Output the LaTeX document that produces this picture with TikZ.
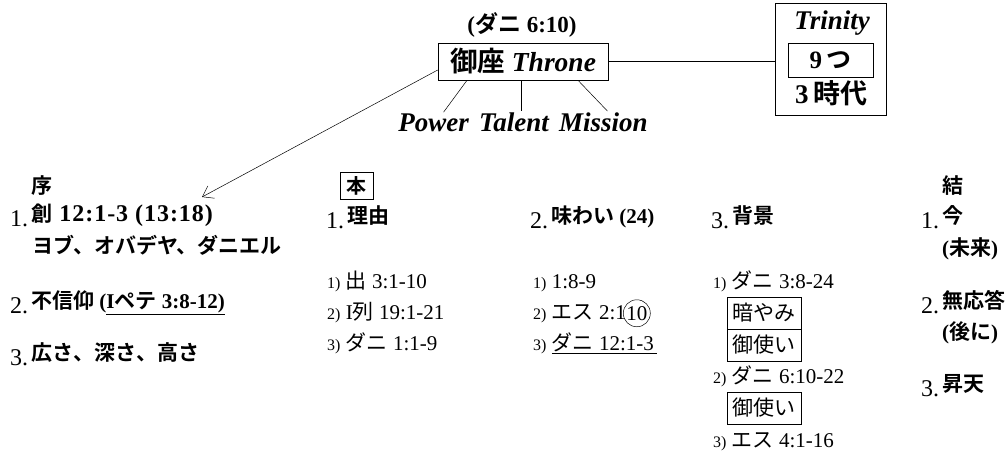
\documentclass[tikz,border=0pt]{standalone}
\usepackage{fontspec}
\setmainfont{Liberation Serif}
\newfontfamily\jp{Noto Sans CJK JP}[BoldFont={Noto Sans CJK JP Bold}]
\usetikzlibrary{arrows.meta, positioning}

\newcommand{\ja}[1]{{\jp #1}}
\newcommand{\nr}[1]{\raisebox{-5pt}{\fontsize{24}{24}\selectfont\mdseries #1}\hspace{3pt}}
\newcommand{\sn}[1]{{\fontsize{16}{16}\selectfont #1}}

\begin{document}
\begin{tikzpicture}[x=1pt, y=-1pt]

        % Setup the styles for the texts and boxes
        \tikzset{head style/.style={anchor=base west,
                                    inner sep=0pt,
                                    font=\fontsize{21}{23}\selectfont\bfseries},
                 item style/.style={anchor=base west,
                                    inner sep=0pt,
                                    font=\fontsize{21}{23}\selectfont},
                 word style/.style={inner sep=1pt,
                                    font=\fontsize{27}{29}\selectfont\bfseries\itshape},
                 box style/.style={draw,
                                   line width=0.6pt,
                                   inner sep=1pt,
                                   outer sep=0pt,
                                   minimum width=74,
                                   minimum height=32,
                                   font=\fontsize{21}{23}\selectfont}}

        \useasboundingbox (0, 0) rectangle (1008, 453);

        % Draw the throne and the trinity
        \node[font=\fontsize{23}{25}\selectfont\bfseries, anchor=base]
                        at (522, 32)    (dan)     {(\ja{ダニ} 6:10)};
        \node[draw, line width=0.6pt, minimum width=170, minimum height=37,
              font=\fontsize{27.5}{29}\selectfont\bfseries]
                        at (523, 61.5)  (throne)  {\ja{御座} \textit{Throne}};
        \node[draw, line width=0.6pt, minimum width=111, minimum height=112]
                        at (830.5, 59)  (trinity) {};
        \node[font=\fontsize{27}{29}\selectfont\bfseries\itshape, anchor=base]
                        at (832, 29)    (tri)     {Trinity};
        \node[box style, minimum width=85, minimum height=34,
              font=\fontsize{25}{27}\selectfont\bfseries]
                        at (830.5, 60)  (nine)    {9\,\ja{つ}};
        \node[font=\fontsize{27}{29}\selectfont\bfseries, anchor=base]
                        at (831, 103)   (era)     {3\,\ja{時代}};

        \node[word style, anchor=base] at (514, 131) (talent) {Talent};
        \node[word style, left=8pt of talent.base west, anchor=base east] (power) {Power};
        \node[word style, right=8pt of talent.base east, anchor=base west] (mission) {Mission};

        \coordinate (intro tip) at (202, 197);

        % Connect the throne
        \draw[line width=0.5pt] (throne.east) -- (throne.east -| trinity.west);
        \draw[line width=0.5pt] ([xshift=-56pt]throne.south) -- ([xshift=10pt]power.north);
        \draw[line width=0.5pt] ([xshift=-2pt]throne.south)
            -- ([xshift=-2pt]throne.south |- talent.north);
        \draw[line width=0.5pt] ([xshift=55pt]throne.south) -- ([xshift=4pt]mission.north);
        \draw[line width=0.5pt, -{Straight Barb[length=10pt, width=14pt]}]
            ([yshift=-8.5pt]throne.west) -- (intro tip);

        % Intro column
        \node[head style] at (31, 193)  (jo)    {\ja{序}};
        \node[head style] at (10, 221)  (jo1)
            {\nr{1.}\ja{創}\hspace{2pt} {\fontsize{24}{24}\selectfont
             \addfontfeature{LetterSpace=4}12:1-3 (13:18)}};
        \node[head style] at (32, 253)  (jo1b)  {\ja{ヨブ、オバデヤ、ダニエル}};
        \node[head style] at (10, 308)  (jo2)   {\nr{2.}\ja{不信仰} (\underline{I\ja{ペテ} 3:8-12)}};
        \node[head style] at (10, 360)  (jo3)   {\nr{3.}\ja{広さ、深さ、高さ}};

        % Main columns
        \node[box style, minimum width=33, minimum height=27,
              font=\fontsize{20}{22}\selectfont\bfseries]
                                        at (356.5, 185.5) (hon) {\ja{本}};
        \node[head style] at (326, 223) (hon1)  {\nr{1.}\ja{理由}};
        \node[item style] at (327, 288) (hon1a) {\sn{1)} \ja{出} 3:1-10};
        \node[item style] at (327, 319) (hon1b) {\sn{2)} I\ja{列} 19:1-21};
        \node[item style] at (327, 350) (hon1c) {\sn{3)} \ja{ダニ} 1:1-9};

        \node[head style] at (530, 223) (hon2)  {\nr{2.}\ja{味わい} (24)};
        \node[item style] at (533, 288) (hon2a) {\sn{1)} 1:8-9};
        \node[item style] at (533, 319) (hon2b) {\sn{2)} \ja{エス} 2:1};
        \node[circle, draw, line width=0.5pt, inner sep=0pt, minimum size=27,
              font=\fontsize{21}{23}\selectfont, anchor=west]
                          at ([xshift=-3pt]hon2b.east) (ten) {10};
        \node[item style] at (533, 350) (hon2c) {\sn{3)} \underline{\ja{ダニ} 12:1-3\hspace{3pt}}};

        \node[head style] at (711, 223) (hon3)  {\nr{3.}\ja{背景}};
        \node[item style] at (713, 288) (hon3a) {\sn{1)} \ja{ダニ} 3:8-24};
        \node[box style]  at (764, 313) (dark)  {\ja{暗やみ}};
        \node[box style, below=0pt of dark] (angel) {\ja{御使い}};
        \node[item style] at (713, 383) (hon3b) {\sn{2)} \ja{ダニ} 6:10-22};
        \node[box style]  at (764, 408) (angel2) {\ja{御使い}};
        \node[item style] at (713, 447) (hon3c) {\sn{3)} \ja{エス} 4:1-16};

        % Closing column
        \node[head style] at (942, 193) (ketsu)  {\ja{結}};
        \node[head style] at (921, 223) (ketsu1) {\nr{1.}\ja{今}};
        \node[head style] at (942, 255) (ketsu1b) {(\ja{未来})};
        \node[head style] at (921, 308) (ketsu2) {\nr{2.}\ja{無応答}};
        \node[head style] at (942, 339) (ketsu2b) {(\ja{後に})};
        \node[head style] at (921, 391) (ketsu3) {\nr{3.}\ja{昇天}};
\end{tikzpicture}
\end{document}
